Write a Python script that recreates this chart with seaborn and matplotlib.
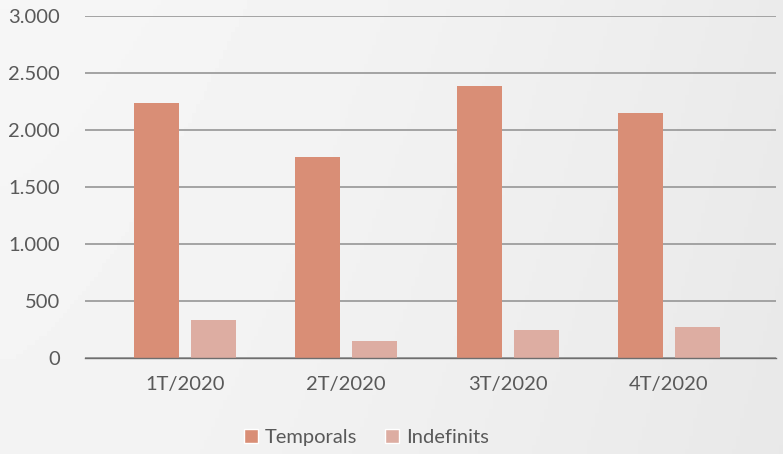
import numpy as np
import pandas as pd
import seaborn as sns
import matplotlib.pyplot as plt
from matplotlib.ticker import FuncFormatter
from matplotlib.patches import Patch

# --- dades ---
trimestres = ['1T/2020', '2T/2020', '3T/2020', '4T/2020']
temporals = [2237, 1763, 2386, 2149]
indefinits = [333, 149, 246, 272]
series = ['Temporals', 'Indefinits']
colors = ['#D98E76', '#DDADA2']

df = pd.DataFrame({
    'trimestre': trimestres * 2,
    'tipus': ['Temporals'] * 4 + ['Indefinits'] * 4,
    'valor': temporals + indefinits,
})

sns.set_theme(style='white')
plt.rcParams['font.family'] = ['Lato', 'DejaVu Sans']
text_color = '#595959'

fig = plt.figure(figsize=(7.83, 4.54), dpi=100)

# fons amb degradat suau
bg = fig.add_axes([0, 0, 1, 1], zorder=-10)
xx = np.linspace(0, 1, 200)
yy = np.linspace(0, 1, 100)
X, Y = np.meshgrid(xx, yy)
grad = 0.965 - 0.045 * X ** 1.5 - 0.01 * Y
bg.imshow(grad, cmap='gray', vmin=0, vmax=1, aspect='auto', extent=[0, 1, 0, 1])
bg.axis('off')

ax = fig.add_axes([0.1086, 0.2115, 0.8825, 0.7533])
ax.patch.set_alpha(0)

sns.barplot(data=df, x='trimestre', y='valor', hue='tipus', hue_order=series,
            palette=colors, width=0.707, gap=0.21, saturation=1,
            linewidth=0, legend=False, ax=ax, zorder=3)

ax.set_ylim(0, 3000)
ax.set_xlim(-0.62, 3.665)
ax.set_yticks(range(0, 3001, 500))
ax.yaxis.set_major_formatter(FuncFormatter(lambda v, p: f'{int(v):,}'.replace(',', '.')))
ax.grid(axis='y', color='#A3A3A3', linewidth=1.4, zorder=0)
for s in ['top', 'right', 'left']:
    ax.spines[s].set_visible(False)
ax.spines['bottom'].set_color('#6E6E6E')
ax.spines['bottom'].set_linewidth(1.0)
ax.spines['bottom'].set_zorder(4)

ax.set_xlabel('')
ax.set_ylabel('')
ax.tick_params(axis='both', length=0, labelsize=14.5, labelcolor=text_color)
ax.tick_params(axis='y', pad=18)
ax.tick_params(axis='x', pad=13)

handles = [Patch(facecolor=c, label=s) for s, c in zip(series, colors)]
fig.legend(handles=handles, loc='center', bbox_to_anchor=(0.468, 0.036), ncol=2,
           frameon=False, fontsize=14.5, labelcolor=text_color,
           handlelength=0.7, handleheight=0.7, handletextpad=0.35, columnspacing=1.4)

plt.savefig('out.png', dpi=100)
